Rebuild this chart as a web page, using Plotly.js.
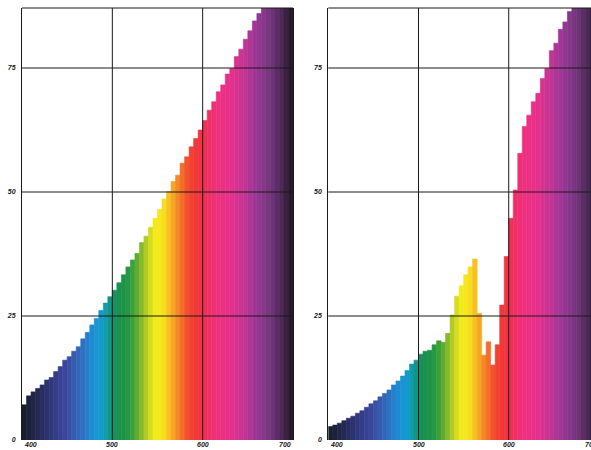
<!DOCTYPE html>
<html>
<head>
<meta charset="utf-8">
<script src="https://cdn.plot.ly/plotly-3.0.1.min.js"></script>
<style>
  html, body { margin: 0; padding: 0; background: #ffffff; }
  #chart { width: 591px; height: 450px; }
</style>
</head>
<body>
<div id="chart"></div>
<script>
// ---- data ----
const wavelengths = [400,405,410,415,420,425,430,435,440,445,450,455,460,465,470,475,480,485,490,495,
                     500,505,510,515,520,525,530,535,540,545,550,555,560,565,570,575,580,585,590,595,
                     600,605,610,615,620,625,630,635,640,645,650,655,660,665,670,675,680,685,690,695];

// left panel: smooth, steadily rising spectrum
const leftPower = [7.1,8.9,9.7,10.4,11.1,12.1,12.6,13.8,14.8,16.1,
                   16.8,17.9,18.8,20.4,21.7,23.2,24.5,26.1,27.6,28.9,
                   30.2,31.7,33.3,34.9,36.3,37.6,39.8,41.1,42.9,44.7,
                   46.5,48.6,50.1,52.1,53.4,55.8,57.1,59.1,60.8,62.5,
                   64.4,66.5,68.2,70.2,71.6,73.8,74.9,77.3,78.8,80.8,
                   82.5,84.5,86.0,88.0,89.5,91.0,92.5,94.0,95.5,97.0];

// right panel: spectrum with a yellow peak and a notch near 580 nm
const rightPower = [2.7,3.0,3.4,3.9,4.4,4.8,5.4,5.9,6.6,7.3,
                    7.9,8.7,9.4,10.1,11.1,11.9,12.9,14.0,15.3,16.1,
                    17.3,17.9,18.1,19.2,20.0,19.7,21.5,25.2,29.0,31.1,
                    33.3,34.9,36.5,25.5,17.1,19.8,15.1,19.2,27.2,37.0,
                    44.7,50.4,57.8,63.2,65.5,68.2,69.9,72.9,74.9,78.5,
                    80.0,82.8,84.3,86.4,88.0,89.5,91.0,92.5,94.0,95.5];

const xTicks = [400, 500, 600, 700];
const yTicks = [0, 25, 50, 75];
const xGrid = [500, 600];
const yGrid = [25, 50, 75];

// ---- style ----
const spectrumStops = [
  [400,'#181b28'],[410,'#1f2440'],[420,'#262c5c'],[430,'#2e3574'],[440,'#373f8e'],
  [450,'#3b4aa0'],[460,'#3460b4'],[470,'#2a78c6'],[480,'#1a92d6'],[488,'#139ccd'],
  [495,'#119a9a'],[502,'#169060'],[510,'#1a914a'],[520,'#2a9a40'],[530,'#70b030'],
  [540,'#c8d420'],[548,'#f4ec1c'],[556,'#f8e41e'],[565,'#f8b422'],[575,'#f57a28'],
  [585,'#f2452c'],[595,'#f0353a'],[605,'#f0305c'],[615,'#f0307e'],[630,'#e8308a'],
  [645,'#c83494'],[660,'#983896'],[675,'#74357e'],[688,'#4a2854'],[700,'#1e1820']
];
const spectrumScale = spectrumStops.map(s => [(s[0]-400)/300, s[1]]);
const colorVals = wavelengths.map(w => w + 2.5);

const W = 591, H = 450;
const leftDomain = [22/W, 293/W];
const rightDomain = [328.3/W, 1];
const yDomain = [1 - 440/H, 1 - 8/H];
const yRange = [0, 87.1];
const leftRange = [400, 700];
const rightRange = [400, 691.2];

const labelFont = {family: 'Liberation Sans, Arial, sans-serif', size: 7, style: 'italic', weight: 'bold', color: '#1a1a1a'};
const lineColor = '#1a1a1a';

function barTrace(values, xa, ya) {
  return {
    type: 'bar', x: wavelengths, y: values, xaxis: xa, yaxis: ya,
    width: 5, offset: 0,
    marker: {
      color: colorVals, colorscale: spectrumScale, cmin: 400, cmax: 700, showscale: false,
      line: {width: 0.6, color: colorVals, colorscale: spectrumScale, cmin: 400, cmax: 700}
    },
    hoverinfo: 'x+y'
  };
}

const data = [barTrace(leftPower, 'x', 'y'), barTrace(rightPower, 'x2', 'y2')];

function xAxis(domain, range, anchor) {
  return {domain: domain, range: range, anchor: anchor, showgrid: false, zeroline: false,
          showticklabels: false, ticks: '', showline: false, fixedrange: true};
}
function yAxis(anchor) {
  return {domain: yDomain, range: yRange, anchor: anchor, tickmode: 'array', tickvals: yTicks,
          ticktext: yTicks.map(String), tickfont: labelFont, ticks: 'outside', ticklen: 4,
          tickcolor: 'rgba(0,0,0,0)', showgrid: false, zeroline: false,
          showline: true, mirror: true, linecolor: lineColor, linewidth: 1, fixedrange: true};
}

const shapes = [];
const annotations = [];
const panels = [
  {xa: 'x', ya: 'y', domain: leftDomain, range: leftRange},
  {xa: 'x2', ya: 'y2', domain: rightDomain, range: rightRange}
];
panels.forEach(p => {
  // top frame line
  shapes.push({type: 'line', xref: p.xa + ' domain', yref: p.ya + ' domain', x0: 0, x1: 1, y0: 1, y1: 1,
               line: {color: lineColor, width: 1}, layer: 'above'});
  xGrid.forEach(v => shapes.push({type: 'line', xref: p.xa, yref: p.ya + ' domain', x0: v, x1: v, y0: 0, y1: 1,
               line: {color: lineColor, width: 1}, layer: 'above'}));
  yGrid.forEach(v => shapes.push({type: 'line', xref: p.xa + ' domain', yref: p.ya, x0: 0, x1: 1, y0: v, y1: v,
               line: {color: lineColor, width: 1}, layer: 'above'}));
  xTicks.forEach((t, i) => {
    const anchor = i === 0 ? 'left' : (i === xTicks.length - 1 ? 'right' : 'center');
    const ann = {text: String(t), showarrow: false, xanchor: anchor, yref: 'paper', y: 1 - 444/H,
                 yanchor: 'middle', font: labelFont};
    if (t >= p.range[0] && t <= p.range[1]) {
      ann.xref = p.xa; ann.x = t;
    } else {
      // the reference crops this label at the page edge
      ann.xref = 'paper';
      ann.x = p.domain[0] + (t - p.range[0]) / (p.range[1] - p.range[0]) * (p.domain[1] - p.domain[0]);
    }
    annotations.push(ann);
  });
});

const layout = {
  width: W, height: H,
  margin: {l: 0, r: 0, t: 0, b: 0, pad: 0},
  paper_bgcolor: '#ffffff', plot_bgcolor: '#ffffff',
  showlegend: false, bargap: 0, barmode: 'overlay',
  xaxis: xAxis(leftDomain, leftRange, 'y'),
  yaxis: yAxis('x'),
  xaxis2: xAxis(rightDomain, rightRange, 'y2'),
  yaxis2: yAxis('x2'),
  shapes: shapes,
  annotations: annotations
};

Plotly.newPlot('chart', data, layout, {displayModeBar: false, staticPlot: true});
</script>
</body>
</html>
